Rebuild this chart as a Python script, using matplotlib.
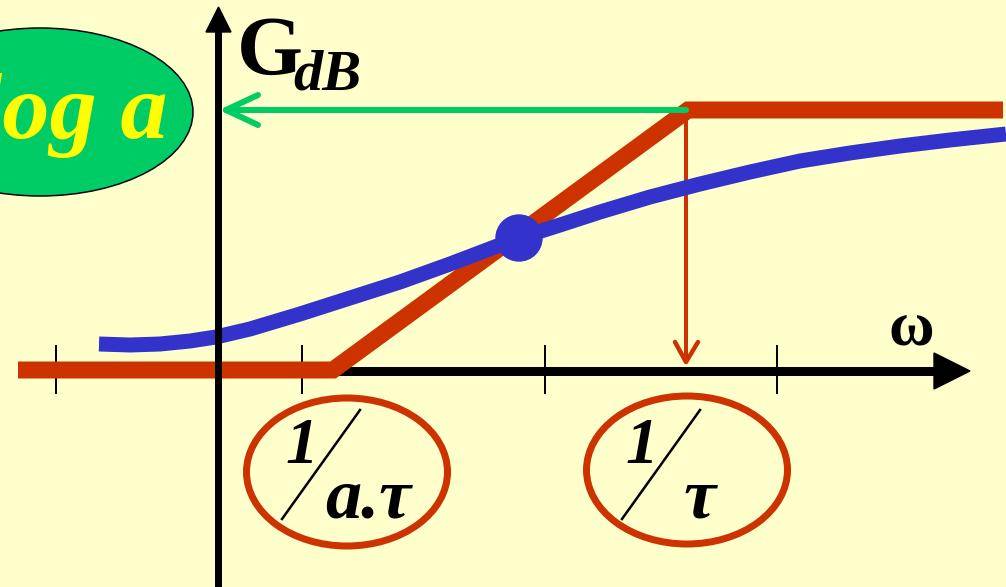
# Bode asymptote sketch for a phase-lead network: G_dB vs log(omega)

import matplotlib.pyplot as plt
from matplotlib.patches import Ellipse, Polygon, Circle

# picture is drawn in pixel units (x right, y down)
asym_x = [18, 333, 688, 1003]         # red straight-line asymptote
asym_y = [370, 370, 110, 110]
real_x = [99, 130, 160, 190, 216, 250, 300, 350, 400, 450, 500, 519, 560, 600, 650, 700, 750, 800, 850, 900, 950, 1006]
real_y = [344, 345, 344, 341, 337, 329, 314, 298, 282, 264, 245, 238, 225, 212, 197, 184, 172, 161, 153, 146, 140, 134]
dot = (519, 238)                      # middle point (sqrt of both breaks)
tick_x = [56, 302, 545, 777]
w_low = 347                           # 1/(a.tau) label centre
w_high = 687                          # 1/tau
g_max = 110                           # 20 log a level

red = '#CC3300'
blue = '#3333CC'
green = '#00CC66'
bg = '#FFFFCC'
px = 0.72                             # points per pixel at dpi 100

fig = plt.figure(figsize=(10.06, 5.87), dpi=100)
fig.patch.set_facecolor(bg)
ax = fig.add_axes([0, 0, 1, 1])
ax.set_facecolor(bg)
ax.set_xlim(0, 1006)
ax.set_ylim(587, 0)
ax.axis('off')

serif = 'Liberation Serif'

# green bubble with 20 log a
ax.add_patch(Ellipse((40, 112), 306, 168, facecolor=green, edgecolor='black', lw=1.5 * px, zorder=1))
ax.text(168, 138, 'log a', color='#FFFF00', fontsize=68, family=serif, weight='bold', style='italic',
        ha='right', va='baseline', zorder=2)

# omega axis
ax.plot([18, 936], [371, 371], color='black', lw=9 * px, solid_capstyle='butt', zorder=2)
ax.add_patch(Polygon([(934, 353), (934, 389), (970, 371)], closed=True, color='black', zorder=2))
for t in tick_x:
    ax.plot([t, t], [346, 393], color='black', lw=2 * px, zorder=2)
ax.text(889, 345, 'ω', fontsize=45, family=serif, weight='bold', va='baseline', zorder=5)

# asymptote
ax.plot(asym_x, asym_y, color=red, lw=17 * px, solid_capstyle='butt', solid_joinstyle='miter', zorder=3)

# projection of the top break onto the omega axis
ax.plot([w_high - 1, w_high - 1], [118, 361], color=red, lw=4 * px, zorder=3)
ax.plot([675, w_high - 1, 698], [342, 362, 342], color=red, lw=4.5 * px,
        solid_capstyle='round', solid_joinstyle='round', zorder=3)

# green arrow to the G axis
ax.plot([686, 226], [g_max, g_max], color=green, lw=6 * px, solid_capstyle='round', zorder=3)
ax.plot([258, 226, 258], [95, g_max, 125], color=green, lw=6 * px,
        solid_capstyle='round', solid_joinstyle='round', zorder=3)

# real curve
ax.plot(real_x, real_y, color=blue, lw=15 * px, solid_capstyle='butt', zorder=4)
ax.add_patch(Circle(dot, 23, color=blue, zorder=4))

# G axis (on top)
ax.plot([218.5, 218.5], [587, 28], color='black', lw=7 * px, solid_capstyle='butt', zorder=6)
ax.add_patch(Polygon([(206, 32), (231, 32), (218.5, 7)], closed=True, color='black', zorder=6))
ax.text(237, 75, 'G', fontsize=61, family=serif, weight='bold', va='baseline', zorder=6)
ax.text(293, 89, 'dB', fontsize=42, family=serif, weight='bold', style='italic', va='baseline', zorder=6)

# break frequency labels
for cx, cy in [(w_low, 472), (w_high, 470)]:
    ax.add_patch(Ellipse((cx, cy), 201, 148, fill=False, edgecolor=red, lw=7 * px, zorder=3))
    ax.text(cx - 62, 463, '1', fontsize=47, family=serif, weight='bold', style='italic',
            va='baseline', zorder=5)
    ax.plot([cx - 65, cx + 13], [519, 410], color='black', lw=2.5 * px, zorder=5)
ax.text(w_low - 22, 518, 'a.', fontsize=52, family=serif, weight='bold', style='italic',
        va='baseline', zorder=5)
ax.text(w_low + 32, 518, 'τ', fontsize=52, family=serif, weight='bold', style='italic',
        va='baseline', zorder=5)
ax.text(w_high - 3, 518, 'τ', fontsize=52, family=serif, weight='bold', style='italic',
        va='baseline', zorder=5)

fig.savefig('out.png', dpi=100, facecolor=bg)
